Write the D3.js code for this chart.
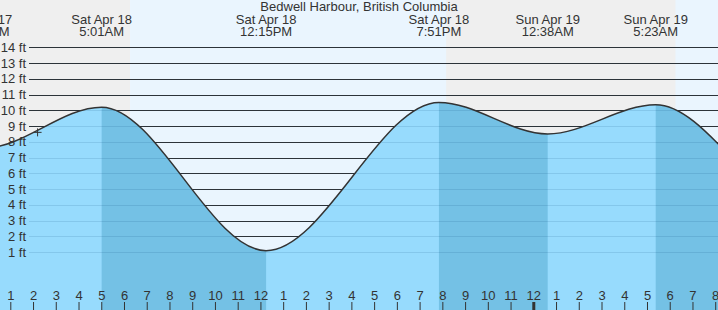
<!DOCTYPE html>
<html lang="en">
<head>
    <meta charset="UTF-8">
    <title>Bedwell Harbour Tides</title>
    <script src="https://d3js.org/d3.v7.min.js"></script>
    <style>
        body { margin: 0; }
        text { font-family: "Liberation Sans", Arial, sans-serif; fill: #333; }
    </style>
</head>
<body>
    <svg width="718" height="310" id="chart"></svg>

    <script>
        // Tide extremes (high / low), with a couple just off each edge
        const tideTimes = ["2020-04-17 19:20", "2020-04-17 23:51", "2020-04-18 05:01", "2020-04-18 12:15",
                           "2020-04-18 19:51", "2020-04-19 00:38", "2020-04-19 05:23", "2020-04-19 12:05",
                           "2020-04-19 20:30"];
        const tideHeights = [9.6, 7.6, 10.2, 1.1, 10.5, 8.5, 10.35, 3.6, 10.8];

        // Labels printed above each visible extreme (starting at the Fri 11:51PM low)
        const labelDays = ["Fri Apr 17", "Sat Apr 18", "Sat Apr 18", "Sat Apr 18", "Sun Apr 19", "Sun Apr 19"];
        const labelTimes = ["11:51PM", "5:01AM", "12:15PM", "7:51PM", "12:38AM", "5:23AM"];

        // Daylight periods
        const dayStarts = ["2020-04-18 06:16", "2020-04-19 06:15"];
        const dayEnds = ["2020-04-18 20:10", "2020-04-19 20:12"];

        // Height ticks
        const feetTicks = [1, 2, 3, 4, 5, 6, 7, 8, 9, 10, 11, 12, 13, 14];

        // Current time marker
        const nowTime = "2020-04-18 02:12";
        const nowHeight = 8.6;

        const width = 718, height = 310;
        const parse = d3.timeParse("%Y-%m-%d %H:%M");
        const svg = d3.select("#chart");

        const tides = tideTimes.map((t, i) => ({ date: parse(t), ft: tideHeights[i] }));

        // Scales
        const pxPerHour = 22.739;
        const x = d3.scaleTime()
            .domain([parse("2020-04-18 00:00"), parse("2020-04-19 08:00")])
            .range([10.3 - pxPerHour, 10.3 + 31 * pxPerHour]);
        const y = d3.scaleLinear().domain([0, 14]).range([268, 47.2]);

        // Night background, then day bands
        svg.append("rect").attr("width", width).attr("height", height).attr("fill", "#efefef");
        svg.selectAll(".day")
            .data(dayStarts)
            .join("rect")
            .attr("x", (d, i) => x(parse(d)))
            .attr("width", (d, i) => x(parse(dayEnds[i])) - x(parse(d)))
            .attr("y", 0)
            .attr("height", height)
            .attr("fill", "#eaf5fe");

        // Dark grid lines (visible above the water)
        const gridY = d => Math.round(y(d)) + 0.5;
        svg.selectAll(".grid")
            .data(feetTicks)
            .join("line")
            .attr("x1", 29).attr("x2", width)
            .attr("y1", gridY).attr("y2", gridY)
            .attr("stroke", "#333").attr("stroke-width", 1);

        // Water area
        const area = d3.area()
            .curve(d3.curveMonotoneX)
            .x(d => x(d.date))
            .y0(height)
            .y1(d => y(d.ft));
        const line = d3.line()
            .curve(d3.curveMonotoneX)
            .x(d => x(d.date))
            .y(d => y(d.ft));

        // Falling tide segments get the darker fill
        const defs = svg.append("defs");
        const falling = [];
        for (let i = 0; i < tides.length - 1; i++) {
            if (tides[i + 1].ft < tides[i].ft) falling.push([tides[i].date, tides[i + 1].date]);
        }
        defs.append("clipPath").attr("id", "fallClip")
            .selectAll("rect")
            .data(falling)
            .join("rect")
            .attr("x", d => x(d[0]))
            .attr("width", d => x(d[1]) - x(d[0]))
            .attr("y", 0).attr("height", height);

        svg.append("path").datum(tides).attr("d", area).attr("fill", "#97dbfd");
        svg.append("path").datum(tides).attr("d", area).attr("fill", "#74c1e5")
            .attr("clip-path", "url(#fallClip)");

        // Faint grid lines through the water
        svg.selectAll(".gridFaint")
            .data(feetTicks)
            .join("line")
            .attr("x1", 29).attr("x2", width)
            .attr("y1", gridY).attr("y2", gridY)
            .attr("stroke", "rgba(0,60,110,0.12)").attr("stroke-width", 1);

        // Tide curve
        svg.append("path").datum(tides)
            .attr("d", line)
            .attr("fill", "none")
            .attr("stroke", "#333")
            .attr("stroke-width", 1.5);

        // Height labels
        svg.selectAll(".ylab")
            .data(feetTicks)
            .join("text")
            .attr("x", 26)
            .attr("y", d => y(d))
            .attr("dy", "0.35em")
            .attr("text-anchor", "end")
            .style("font-size", "13px")
            .text(d => `${d} ft`);

        // Hour axis along the bottom
        const hours = d3.timeHour.range(parse("2020-04-18 01:00"), parse("2020-04-19 08:01"));
        const axis = svg.append("g")
            .attr("transform", `translate(0,${height})`)
            .call(d3.axisTop(x).tickValues(hours).tickFormat(d3.timeFormat("%-I")).tickSize(8).tickPadding(2));
        axis.select(".domain").remove();
        axis.selectAll("line").attr("stroke", "#333");
        axis.selectAll(".tick")
            .filter(d => d.getHours() === 0)
            .select("line").attr("stroke-width", 3);
        axis.selectAll("text")
            .style("font-size", "13px")
            .style("font-family", "'Liberation Sans', Arial, sans-serif")
            .attr("fill", "#333");

        // Extreme labels along the top (first labelled extreme is tides[1])
        const labels = svg.selectAll(".tideLab")
            .data(labelDays)
            .join("text")
            .attr("text-anchor", "middle")
            .attr("transform", (d, i) => `translate(${x(tides[i + 1].date)},0)`)
            .style("font-size", "13px");
        labels.append("tspan").attr("x", 0).attr("y", 24).text(d => d);
        labels.append("tspan").attr("x", 0).attr("y", 36).text((d, i) => labelTimes[i]);

        // Title
        svg.append("text")
            .attr("x", width / 2)
            .attr("y", 11)
            .attr("text-anchor", "middle")
            .style("font-size", "13px")
            .text("Bedwell Harbour, British Columbia");

        // Now marker
        const nx = x(parse(nowTime)), ny = y(nowHeight);
        svg.append("path")
            .attr("d", `M${nx - 4},${ny}H${nx + 4}M${nx},${ny - 4}V${ny + 4}`)
            .attr("stroke", "#333")
            .attr("stroke-width", 1);
    </script>
</body>
</html>
